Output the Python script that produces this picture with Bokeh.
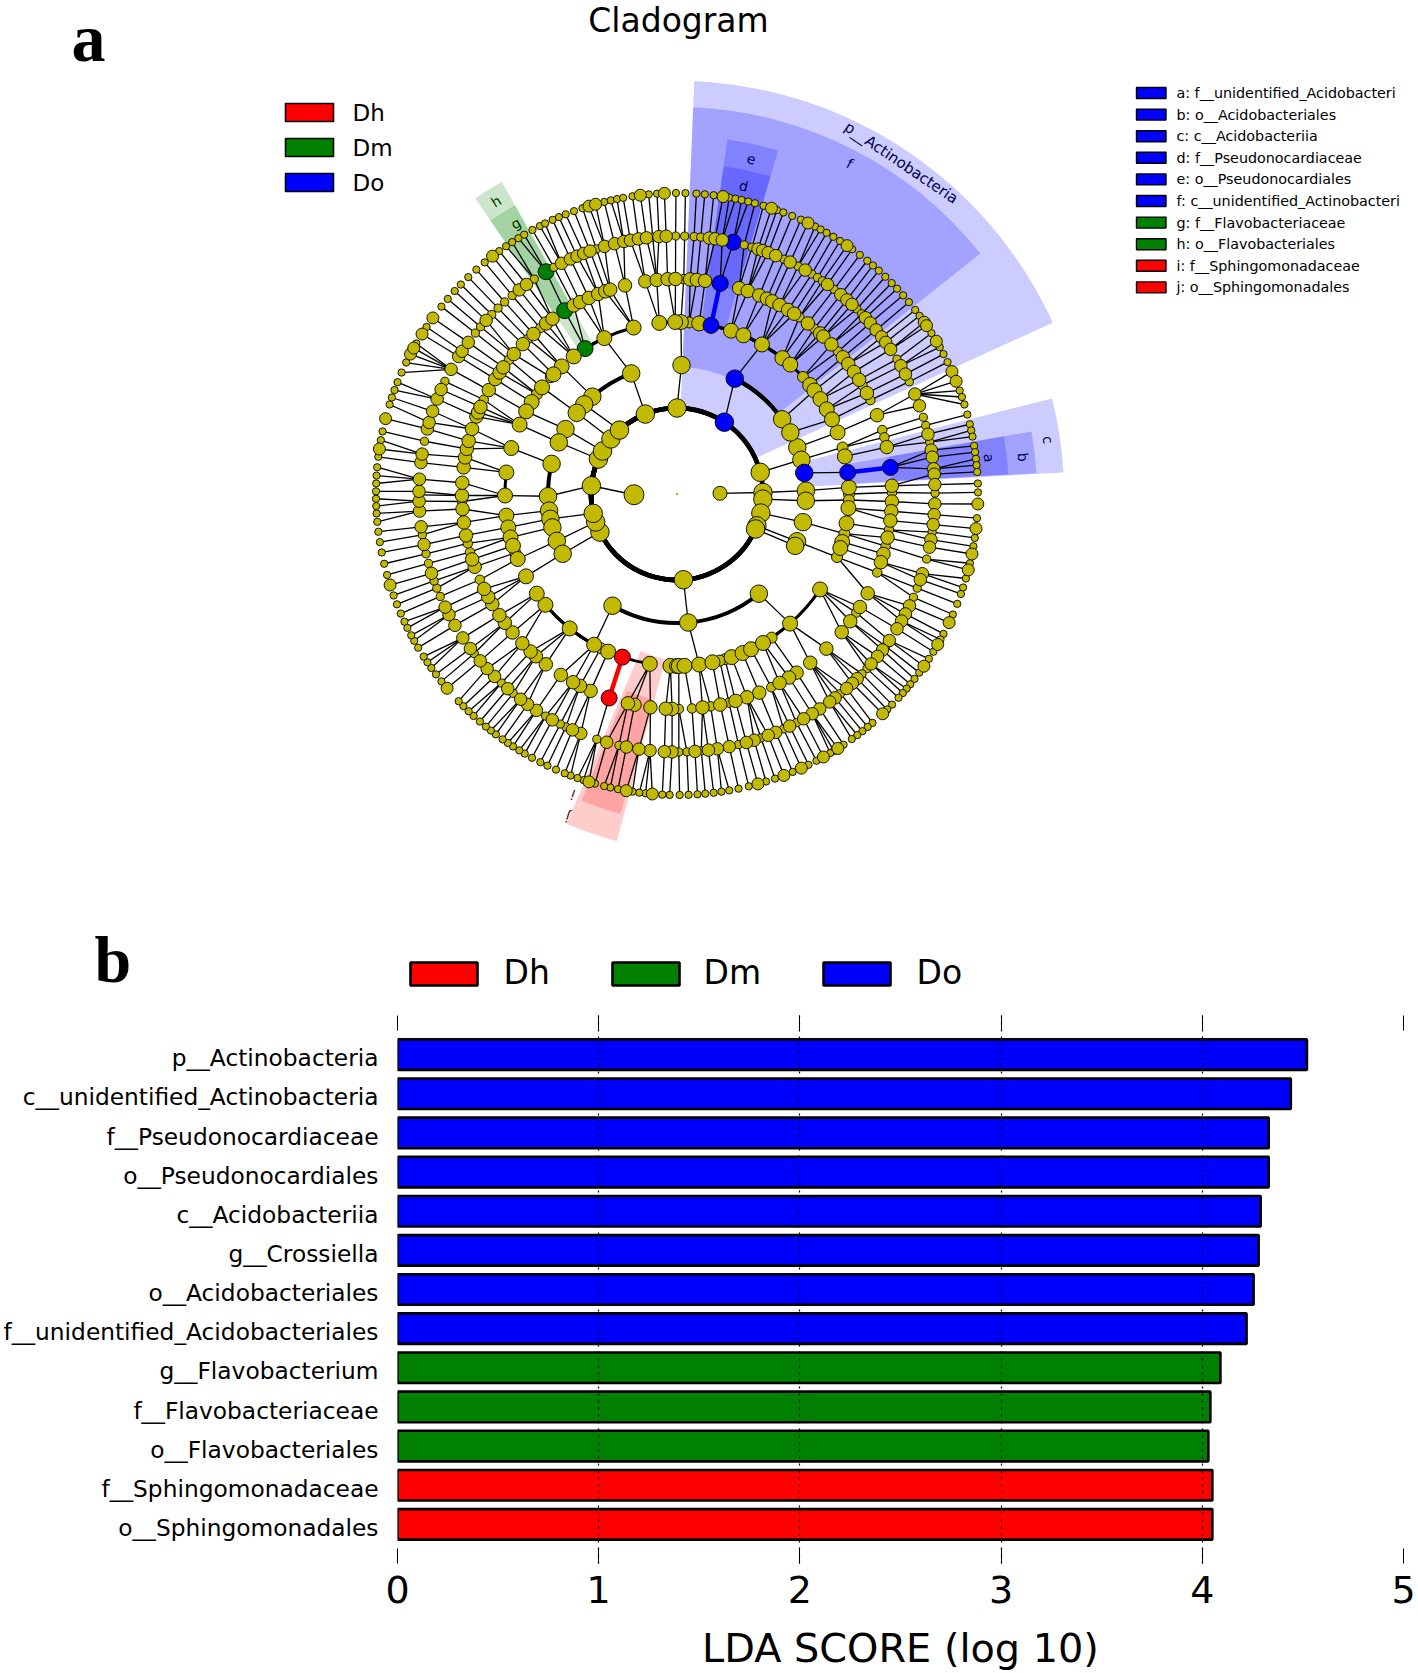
import numpy as np
from bokeh.plotting import figure
from bokeh.layouts import column
from bokeh.models import Range1d, FixedTicker, LinearAxis
from bokeh.core.properties import value
from bokeh.embed import file_html
from bokeh.resources import INLINE

# ---------- panel b data ----------
BAR_NAMES = ["p__Actinobacteria", "c__unidentified_Actinobacteria", "f__Pseudonocardiaceae",
             "o__Pseudonocardiales", "c__Acidobacteriia", "g__Crossiella", "o__Acidobacteriales",
             "f__unidentified_Acidobacteriales", "g__Flavobacterium", "f__Flavobacteriaceae",
             "o__Flavobacteriales", "f__Sphingomonadaceae", "o__Sphingomonadales"]
BAR_VALUES = [4.52, 4.44, 4.33, 4.33, 4.29, 4.28, 4.255, 4.22, 4.09, 4.04, 4.03, 4.05, 4.05]
BAR_CLASS = ["Do"] * 8 + ["Dm"] * 3 + ["Dh"] * 2
CLASS_NAMES = ["Dh", "Dm", "Do"]
CLASS_COLORS = {"Dh": "#FF0000", "Dm": "#008000", "Do": "#0000FF"}
X_TICKS = [0, 1, 2, 3, 4, 5]

# ---------- panel a data: clade angles (degrees) per ring ----------
LV1_GROUPS = {0.9: [1],
              181: [90, 56.6, 14.6, -3.4, -12.8, -21.7, -24, -85.7, -153.7, -161, -167,
                    174.5, 156, 150, 140.2, 132, 111.6]}
LV2_GROUPS = {1: [1.5], -3.4: [-3], 14.6: [21.2, 15.4, 9.4], 56.6: [63.4, 35.4, 28.5],
              90: [88], 111.6: [110.8, 131], 132: [136], 140.2: [141], 150: [149.8],
              156: [156.4], 174.5: [181, 166.5], -167: [-172.6, -168.9, -165],
              -161: [-158.7], -153.7: [-152.4], -12.8: [-12.6], -21.7: [-21.5], -24: [-23.7],
              -85.7: [-120, -85, -50.6]}
LV3_GROUPS = {1.5: [2.2, 0], -3: [-2, -4.7], 9.4: [7.2], 15.4: [15.7, 12.6], 21.2: [21],
              -12.6: [-9.8, -13.3, -16.2], -21.5: [-18.3, -21.5],
              63.4: [85.9, 82.6, 78.6, 71.7, 67.3, 60.4, 52.2, 48.8, 42.9],
              35.4: [39.3, 37, 33.5, 29.5], 28.5: [25.7], 88: [88.7, 90.6, 95.9],
              110.8: [104.6, 115, 122.3, 126.9], 131: [132.1, 135.9, 137.2],
              141: [141.7, 144.5], 149.8: [147.7, 151.3], 156.4: [156.2],
              181: [180.5, 172.8], 166.5: [164.5], -172.6: [-172.8], -168.9: [-168.8],
              -165: [-165.4, -162.5], -158.7: [-160, -157.8], -152.4: [-151.4],
              -120: [-99.1, -108.5, -113.6, -116.3, -118.8, -128.6, -139.9, -144.6],
              -85: [-92.2, -90, -89.4, -87.5, -82.6, -78.1, -75.6, -73.8, -71.5, -67.6, -64.5],
              -50.6: [-33.7, -48.9, -56.6, -60]}
LV4_SMALL = [15.7, 0, -2, -13.3, -21.5, 42.9, -56.6, -73.8, -75.6, 137.2, 144.5, -160, -116.3, 85.9]

LV5_BIG = [86.5, 84.7, 82.5, 73.2, 70.8, 67.5, 65.3, 63.7, 61.5, 58.9, 57, 52.5, 48.3, 47.1, 44.1,
           39.5, 37.2, 34.6, 32.1, 28, 21.5, 12.6, 2.2,
           -2, -4.6, -7.1, -11.7, -16.2, -18.5, -27.5, -31.7, -36.3, -40, -46, -51.7, -56.2, -58.6,
           -61.5, -67.5, -71, -74.2, -78.4, -83.2,
           -91.3, -93, -97.1, -101.4, -103.2, -113.7, -116.8, -118.9, -122.7, -127.6, -131, -132.9,
           -136, -139.9, -143.2, -145.7, -149.2, -151.4, -153.8, -160.2, -162.3, -168.9, -172.4,
           -176, -179.6,
           177, 172.9, 170.2, 167.9, 165.7, 162.4, 158.9, 157.7, 156.1, 151.1, 147.7, 145.6, 143.9,
           139.4, 135.8, 131.9, 127.5, 125.4, 118.7, 116.8, 114.2, 111.5, 109.5, 108.1, 104, 98.5,
           95.4, 92.5, 90.4]
LV5_SMALL = [88.2, 78.4, 55.3, 50.3, 41.5, 30.4, 25.9, 17.3, 15.3, 7.1, 0.4,
             -9.6, -14, -21.4, -33.5, -64, -76, -81, -86, -89.5,
             -108.4, -156.5, -164.3, -166.7, -178,
             154, 141.4, 133.9, 129.5, 121.5]

LV6_BIG = [82.8, 81.5, 79.9, 71.7, 70.6, 69.3, 67.5, 64, 60.2, 54.3, 50.6, 48.8, 47.3, 43.1, 41.5,
           39.5, 37.5, 36, 34.1, 29.8, 27.7, 22.8, 20, 13.4, 9.8, 8.2, 5.6, 4.4, 2.1,
           -2.2, -4.6, -6.8, -10.2, -11.9, -18, -19.4, -25.7, -27.7, -29.5, -31.5, -34.6, -37.2,
           -39, -41.2, -45.7, -47.2, -48.9, -52.2, -53.7, -56.4, -58.4, -60.6, -64.1, -67.5, -69.3,
           -72.6, -74.4, -78.3, -81, -83, -86,
           -91.1, -92.8, -96, -98.5, -101.3, -105.8, -111.9, -113.9, -118.9, -123, -125.4, -127.3,
           -131, -135, -137.4, -139.7, -143.2, -146.1, -149.4, -152.1, -154, -162.1, -168.7, -172.7,
           -176.2, -178.4,
           179.4, 176.7, 173, 171.1, 165.4, 163.9, 161.3, 158.4, 156.1, 151.1, 147.8, 146.4, 144,
           137.7, 127.7, 125.7, 116.6, 114.4, 112.8, 111.2, 109.7, 106.3, 104, 101.9, 100.4, 98.6,
           96.8, 94, 92.4]
LV6_SMALL = [88.3, 86.2, 84.7, 77.4, 74.9, 73.1, 65.5, 62, 58.5, 57, 55.7, 52.5, 45.8, 44.3, 31.5,
             25.8, 17.3, 15.4, 11.6, 0.2,
             -8.5, -14.6, -21.4, -23.6, -36.1, -42.6, -44.2, -50.7, -62.4, -65.6, -71, -76.2, -84.6,
             -87.8, -89.6,
             -103, -108.1, -115.5, -116.9, -120.6, -129.4, -132.9, -141.8, -156.6, -158.6, -160.3,
             -164.4, -166.6, -170.9, -179.8,
             168.2, 154.1, 141.4, 139.6, 135.9, 133.9, 131.9, 129.7, 123.6, 120.5, 118.5, 108.2,
             95.4, 90.3]

LV7_BIG = [81.2, 71.7, 64.2, 55.6, 34.8, 34, 30.5, 24, 22,
           -1.9, -6.6, -11.5, -14.6, -25.3, -30, -34.9, -46.9, -57.7, -60.9, -65.6, -69.2, -74.4,
           -94.7, -99.7, -107, -139.8, -162.4,
           171.4, 165.5, 152.3, 151, 147.9, 144.2, 127.8, 107, 105.7, 97, 92.4]
LV7_SMALL = [88.4, 86.3, 84.7, 83, 80, 78.8, 77.6, 76.3, 75, 73.3, 70.6, 69.3, 67.5, 65.7, 62.7,
             61.5, 60.2, 58.7, 57.2, 54.4, 52.6, 50.8, 49.4, 47.9, 46.2, 44.5, 43, 41.3, 39.6, 37.7,
             36.3, 32.3, 29.2, 27.7, 26, 20.1, 18.8, 17.3, 15.3, 13.4, 12.2, 11, 9.2, 8, 6.7, 5.5,
             4.2, 2, 0.3,
             -4.6, -8.4, -10, -13.3, -16.3, -18.1, -19.4, -21.4, -23.6, -27.7, -28.9, -31.6, -33.2,
             -36.4, -37.9, -39.2, -40.3, -41.4, -42.6, -44.4, -45.7, -49.5, -50.7, -52, -53.2,
             -54.5, -56.4, -58.6, -59.4, -62.4, -64.1, -67.4, -71, -72.8, -76.2, -78.2, -80, -81.5,
             -83, -84.6, -86.1, -87.8, -89.5,
             -91.4, -92.8, -96, -97.2, -98.5, -101.3, -102.8, -104, -105.8, -108.1, -109.3, -110.7,
             -111.9, -113.7, -115.5, -117, -118.8, -120.4, -121.6, -123, -124.2, -125.4, -127,
             -128.2, -129.4, -130.9, -132.5, -133.8, -135.2, -136.5, -141.5, -143.2, -144.7, -146,
             -147.3, -149.3, -150.8, -152, -153.6, -154.9, -156.6, -158.5, -160.3, -164.4, -166.6,
             -168.8, -170.8, -172.8, -174.7, -176.3, -177.7, -179.1,
             179.5, 178, 176.5, 174.9, 172.9, 169.7, 168, 162.7, 161.3, 159.8, 158.2, 156.2, 154.1,
             150, 146.3, 141.5, 139.6, 137.6, 135.9, 133.9, 131.8, 129.7, 126.2, 124.6, 123.2,
             121.8, 120.5, 118.7, 117.1, 116, 114.4, 113.1, 111.7, 110, 108.3, 104, 102.7, 101.5,
             100.3, 98.5, 95.4, 93.8, 90.2]
LEAF_FANS = {22.8: [24, 22, 20.1, 18.8, 17.3], 151.1: [156.2, 154.1, 152.3, 151, 150]}

NODE_COLORS = {(2, 56.6): "Do", (3, 63.4): "Do", (4, 78.6): "Do", (5, 78.4): "Do", (6, 77.4): "Do",
               (3, 9.4): "Do", (4, 7.2): "Do", (5, 7.1): "Do",
               (4, 122.3): "Dm", (5, 121.5): "Dm", (6, 120.5): "Dm",
               (4, -108.5): "Dh", (5, -108.4): "Dh"}
COLORED_EDGES = [(4, 78.6, 78.4, "Do"), (4, 7.2, 7.1, "Do"), (4, -108.5, -108.4, "Dh")]

# name, class, inner radius, outer radius, start, end (degrees)
WEDGES = [("p", "Do", 84, 413, 24.5, 87.6), ("f", "Do", 127, 387, 38.4, 87.6),
          ("e", "Do", 170, 358, 73.6, 81.9), ("d", "Do", 212, 331, 73.6, 81.9),
          ("c", "Do", 129, 387, 3.2, 14.3), ("b", "Do", 172, 360, 3.3, 10),
          ("a", "Do", 215, 332, 3.4, 10),
          ("h", "Dm", 170, 358, 119.3, 124.3), ("g", "Dm", 212, 331, 119.3, 124.3)]
RED_WEDGES = [("j", "Dh", 180, 368, -113.2, -104.9), ("i", "Dh", 222, 341, -112.4, -105.5)]
WEDGE_TEXT = [("p__Actinobacteria", 400, 55.9, "#00004D", "15px"), ("f", 373, 62.4, "#00004D", "14px"),
              ("e", 343, 77.5, "#00004D", "14px"), ("d", 315, 77.8, "#00004D", "14px"),
              ("a", 314, 6.6, "#00004D", "14px"), ("b", 348, 6.1, "#00004D", "14px"),
              ("c", 375, 8.3, "#00004D", "14px"), ("h", 344, 121.7, "#003300", "14px"),
              ("g", 315, 120.8, "#003300", "14px"), ("i", 318, -109.1, "#660000", "14px"),
              ("j", 341, -108.7, "#660000", "14px")]
RIGHT_LEGEND = [("a: f__unidentified_Acidobacteri", "Do"), ("b: o__Acidobacteriales", "Do"),
                ("c: c__Acidobacteriia", "Do"), ("d: f__Pseudonocardiaceae", "Do"),
                ("e: o__Pseudonocardiales", "Do"), ("f: c__unidentified_Actinobacteri", "Do"),
                ("g: f__Flavobacteriaceae", "Dm"), ("h: o__Flavobacteriales", "Dm"),
                ("i: f__Sphingomonadaceae", "Dh"), ("j: o__Sphingomonadales", "Dh")]

SANS = value("DejaVu Sans")
W1, H1 = 1418, 1015
CX, CY = 676.5, H1 - 493.5
STEP = 43.0
NODE_FILL = "#C2BA00"


def pol(level, ang, r=None):
    rr = STEP * level if r is None else r
    a = np.radians(ang)
    return CX + rr * np.cos(a), CY + rr * np.sin(a)


def delta(c, p):
    return ((c - p + 180) % 360) - 180


p1 = figure(width=W1, height=H1, x_range=Range1d(0, W1), y_range=Range1d(0, H1),
            output_backend="svg", toolbar_location=None, min_border=0, outline_line_color=None,
            x_axis_location=None, y_axis_location=None)
p1.grid.visible = False
p1.frame_align = False

# highlighted clade wedges
for name, cl, r0, r1, a0, a1 in WEDGES:
    p1.annular_wedge(x=CX, y=CY, inner_radius=r0, outer_radius=r1,
                     start_angle=np.radians(a0), end_angle=np.radians(a1),
                     fill_color=CLASS_COLORS[cl], fill_alpha=0.2, line_color=None)
RX, RY = 711, H1 - 485
for name, cl, r0, r1, a0, a1 in RED_WEDGES:
    p1.annular_wedge(x=RX, y=RY, inner_radius=r0, outer_radius=r1,
                     start_angle=np.radians(a0), end_angle=np.radians(a1),
                     fill_color=CLASS_COLORS[cl], fill_alpha=0.2, line_color=None)

# tree edges: each parent joins its closest child by a straight line, the others by an arc
T = 7.0
ARC_W = {2: 4.5, 3: 4.0, 4: 3.0}
seg_x, seg_y = [], []
for lv, groups in ((1, LV1_GROUPS), (2, LV2_GROUPS), (3, LV3_GROUPS)):
    for pa, kids in groups.items():
        closest = min(kids, key=lambda c: abs(delta(c, pa)))
        end = closest if abs(delta(closest, pa)) <= T else pa
        x0, y0 = pol(lv, pa)
        x1, y1 = pol(lv + 1, end)
        seg_x.append([x0, x1]); seg_y.append([y0, y1])
        for ca in kids:
            if ca == end:
                continue
            d = delta(ca, end)
            lo, hi = (end, end + d) if d > 0 else (end + d, end)
            p1.arc(x=CX, y=CY, radius=STEP * (lv + 1), start_angle=np.radians(lo),
                   end_angle=np.radians(hi), line_color="black", line_width=ARC_W[lv + 1])

LV4_ALL = [c for kids in LV3_GROUPS.values() for c in kids]
LV5_ALL = LV5_BIG + LV5_SMALL
LV6_ALL = LV6_BIG + LV6_SMALL
LV7_ALL = LV7_BIG + LV7_SMALL


def nearest(a, pool):
    return min(pool, key=lambda q: abs(delta(a, q)))


for lv, kids, pool in ((5, LV5_ALL, LV4_ALL), (6, LV6_ALL, LV5_ALL)):
    for ca in kids:
        pa = nearest(ca, pool)
        x0, y0 = pol(lv - 1, pa)
        x1, y1 = pol(lv, ca)
        seg_x.append([x0, x1]); seg_y.append([y0, y1])
for ca in LV7_ALL:
    pa = None
    for fan, leaves in LEAF_FANS.items():
        if ca in leaves:
            pa = fan
    if pa is None:
        pa = nearest(ca, LV6_ALL)
    x0, y0 = pol(6, pa)
    x1, y1 = pol(7, ca)
    seg_x.append([x0, x1]); seg_y.append([y0, y1])
p1.multi_line(seg_x, seg_y, line_color="black", line_width=1.3)

for lv, pa, ca, cl in COLORED_EDGES:
    x0, y0 = pol(lv, pa)
    x1, y1 = pol(lv + 1, ca)
    p1.line([x0, x1], [y0, y1], line_color=CLASS_COLORS[cl], line_width=4.5)

# nodes, outermost first so inner ones stay visible
LV2_ALL = [c for kids in LV1_GROUPS.values() for c in kids]
LV3_ALL = [c for kids in LV2_GROUPS.values() for c in kids]
node_sets = [(7, LV7_SMALL, 7.3), (7, LV7_BIG, 12), (6, LV6_SMALL, 8.2), (6, LV6_BIG, 12.5),
             (5, LV5_SMALL, 9.5), (5, LV5_BIG, 13.5),
             (4, LV4_SMALL, 11), (4, [a for a in LV4_ALL if a not in LV4_SMALL], 15),
             (3, LV3_ALL, 17.5), (2, LV2_ALL, 18.5)]
for lv, angs, d in node_sets:
    xs, ys, fc, sz = [], [], [], []
    for a in angs:
        x, y = pol(lv, a)
        cl = NODE_COLORS.get((lv, a))
        xs.append(x); ys.append(y)
        fc.append(CLASS_COLORS[cl] if cl else NODE_FILL)
        sz.append(max(d, 16) if cl else d)
    p1.scatter(xs, ys, size=sz, fill_color=fc, line_color="black", line_width=0.9)
x, y = pol(1, 0.9); p1.scatter([x], [y], size=14, fill_color=NODE_FILL, line_color="black", line_width=0.9)
x, y = pol(1, 181); p1.scatter([x], [y], size=20, fill_color=NODE_FILL, line_color="black", line_width=0.9)
p1.scatter([CX], [CY], size=2.5, fill_color=NODE_FILL, line_color=None)

# wedge letters
for txt, r, ang, col, fs in WEDGE_TEXT:
    x, y = pol(0, ang, r)
    p1.text([x], [y], text=[txt], angle=np.radians(ang - 90), text_font=SANS, text_font_size=fs,
            text_color=col, text_align="center", text_baseline="middle")

# texts
p1.text([678], [H1 - 19.5], text=["Cladogram"], text_font=SANS, text_font_size="33px",
        text_color="black", text_align="center", text_baseline="middle")
p1.text([71], [H1 - 37], text=["a"], text_font=value("Liberation Serif"), text_font_size="68px",
        text_font_style="bold", text_color="black", text_align="left", text_baseline="middle")
p1.text([94], [H1 - 959], text=["b"], text_font=value("Liberation Serif"), text_font_size="66px",
        text_font_style="bold", text_color="black", text_align="left", text_baseline="middle")

# left legend
for i, cl in enumerate(CLASS_NAMES):
    top = H1 - (103 + 35 * i)
    p1.quad(left=[285], right=[333], top=[top], bottom=[top - 18], fill_color=CLASS_COLORS[cl],
            line_color="black", line_width=1.6)
    p1.text([352], [top - 9], text=[cl], text_font=SANS, text_font_size="23px", text_color="black",
            text_align="left", text_baseline="middle")

# right legend
for i, (txt, cl) in enumerate(RIGHT_LEGEND):
    top = H1 - (87 + 21.6 * i)
    p1.quad(left=[1136], right=[1165.5], top=[top], bottom=[top - 11], fill_color=CLASS_COLORS[cl],
            line_color="black", line_width=1.4)
    p1.text([1176], [top - 5.5], text=[txt], text_font=SANS, text_font_size="14.3px", text_color="black",
            text_align="left", text_baseline="middle")

# legend of panel b (sits above the bar axes)
for cl, sw0, sw1, tx in zip(CLASS_NAMES, [410, 612, 823], [477, 679, 890], [503, 703, 916]):
    p1.quad(left=[sw0], right=[sw1], top=[H1 - 962], bottom=[H1 - 985], fill_color=CLASS_COLORS[cl],
            line_color="black", line_width=2.6)
    p1.text([tx], [H1 - 972], text=[cl], text_font=SANS, text_font_size="33px", text_color="black",
            text_align="left", text_baseline="middle")

# ---------- panel b ----------
H2 = 1673 - H1
N = len(BAR_NAMES)
p2 = figure(width=1418, height=H2, x_range=Range1d(0, 5), y_range=Range1d(N + 1, 0),
            output_backend="svg", toolbar_location=None, min_border_left=390, min_border_right=15,
            min_border_top=0, min_border_bottom=109, outline_line_color=None, y_axis_location=None)
p2.frame_align = False
positions = list(range(1, N + 1))
for cl in CLASS_NAMES:
    idx = [i for i in range(N) if BAR_CLASS[i] == cl]
    p2.hbar(y=[positions[i] for i in idx], right=[BAR_VALUES[i] for i in idx], left=0,
            height=0.78, fill_color=CLASS_COLORS[cl], line_color="black", line_width=2.6)

p2.xaxis.ticker = FixedTicker(ticks=X_TICKS)
p2.xaxis.major_tick_in = 15
p2.xaxis.major_tick_out = 0
p2.xaxis.minor_tick_line_color = None
p2.xaxis.axis_line_color = None
p2.xaxis.major_tick_line_color = "black"
p2.xaxis.major_label_text_font = "DejaVu Sans"
p2.xaxis.major_label_text_color = "black"
p2.xaxis.major_label_text_font_size = "38px"
p2.xaxis.major_label_standoff = 12
p2.xaxis.axis_label = "LDA SCORE (log 10)"
p2.xaxis.axis_label_text_font = "DejaVu Sans"
p2.xaxis.axis_label_text_color = "black"
p2.xaxis.axis_label_text_font_style = "normal"
p2.xaxis.axis_label_text_font_size = "39.8px"
p2.xaxis.axis_label_standoff = 19

top_axis = LinearAxis(ticker=FixedTicker(ticks=X_TICKS), major_tick_in=15, major_tick_out=0,
                      minor_tick_line_color=None, axis_line_color=None, major_label_text_color=None,
                      major_label_text_font_size="0px", major_label_standoff=0)
p2.add_layout(top_axis, "above")

# tick labels sit a little below their bars, so they use a slightly offset range
p2.extra_y_ranges = {"labels": Range1d(N + 1 - 0.08, -0.08)}
left_axis = LinearAxis(y_range_name="labels", ticker=FixedTicker(ticks=positions),
                       major_label_overrides={pos: name for pos, name in zip(positions, BAR_NAMES)},
                       major_tick_line_color=None, minor_tick_line_color=None, axis_line_color=None,
                       major_label_text_font="DejaVu Sans", major_label_text_font_size="23.3px",
                       major_label_text_color="black", major_label_standoff=13)
p2.add_layout(left_axis, "left")

p2.ygrid.visible = False
p2.xgrid.ticker = FixedTicker(ticks=X_TICKS)
p2.xgrid.level = "overlay"
p2.xgrid.grid_line_color = "black"
p2.xgrid.grid_line_dash = "2 5"
p2.xgrid.grid_line_width = 1.2

page = column(p1, p2, spacing=0, styles={"position": "absolute", "left": "0px", "top": "0px"})
open("out.html", "w").write(file_html(page, INLINE))
